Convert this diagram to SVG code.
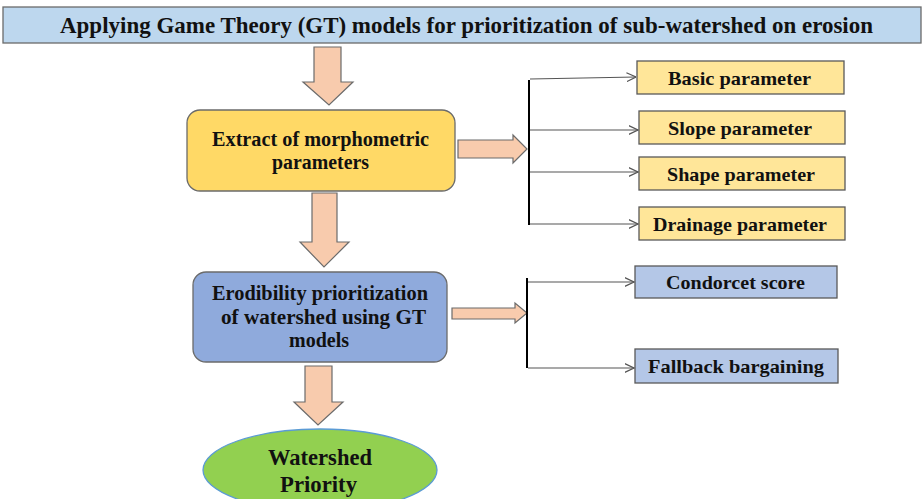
<svg xmlns="http://www.w3.org/2000/svg" width="923" height="499" viewBox="0 0 923 499">
  <style>
    text { font-family: "Liberation Serif", "Times New Roman", serif; font-weight: bold; fill: #111; text-anchor: middle; }
    .title { font-size: 23px; }
    .main { font-size: 20.5px; }
    .sub { font-size: 19.5px; }
    .big { font-size: 23px; }
    .fat { fill: #F8CBAD; stroke: #6b6b6b; stroke-width: 1.2; }
    .branch { fill: none; stroke: #555; stroke-width: 1.2; }
    .spine { stroke: #000; stroke-width: 2; }
    .yel { fill: #FFE699; stroke: #595959; stroke-width: 1.3; }
    .blu { fill: #B4C7E7; stroke: #595959; stroke-width: 1.3; }
  </style>
  <defs>
    <marker id="open" viewBox="0 0 10 10" refX="9.5" refY="5" markerWidth="10" markerHeight="10" markerUnits="userSpaceOnUse" orient="auto">
      <path d="M0,0.5 L9.5,5 L0,9.5" fill="none" stroke="#555" stroke-width="1.2"/>
    </marker>
  </defs>
  <rect width="923" height="499" fill="#fff"/>

  <g id="title">
    <rect x="3" y="7" width="918" height="36" fill="#BDD7EE" stroke="#6b6b6b" stroke-width="1.3"/>
    <text class="title" x="466.5" y="33" textLength="813" lengthAdjust="spacingAndGlyphs">Applying Game Theory (GT) models for prioritization of sub-watershed on erosion</text>
  </g>

  <g id="extract">
    <rect x="187" y="110" width="268" height="81" rx="13" fill="#FFD966" stroke="#6b6b6b" stroke-width="1.3"/>
    <text class="main" x="320.5" y="146" textLength="217" lengthAdjust="spacingAndGlyphs">Extract of morphometric</text>
    <text class="main" x="320.5" y="169" textLength="97" lengthAdjust="spacingAndGlyphs">parameters</text>
  </g>

  <g id="erodibility">
    <rect x="193" y="272" width="254" height="90" rx="13" fill="#8FAADC" stroke="#6b6b6b" stroke-width="1.3"/>
    <text class="main" x="320" y="300" textLength="216" lengthAdjust="spacingAndGlyphs">Erodibility prioritization</text>
    <text class="main" x="323.5" y="324" textLength="205" lengthAdjust="spacingAndGlyphs">of watershed  using GT</text>
    <text class="main" x="319" y="347" textLength="60" lengthAdjust="spacingAndGlyphs">models</text>
  </g>

  <g id="priority">
    <ellipse cx="320" cy="470" rx="117" ry="41" fill="#92D050" stroke="#5B9BD5" stroke-width="1.3"/>
    <text class="big" x="320" y="465" textLength="104" lengthAdjust="spacingAndGlyphs">Watershed</text>
    <text class="big" x="318.5" y="492" textLength="77" lengthAdjust="spacingAndGlyphs">Priority</text>
  </g>

  <g id="basic">
    <rect class="yel" x="637" y="61" width="207" height="33"/>
    <text class="sub" x="739.5" y="85" textLength="143" lengthAdjust="spacingAndGlyphs">Basic parameter</text>
  </g>
  <g id="slope">
    <rect class="yel" x="639" y="111" width="206" height="33"/>
    <text class="sub" x="740" y="135" textLength="144" lengthAdjust="spacingAndGlyphs">Slope parameter</text>
  </g>
  <g id="shape">
    <rect class="yel" x="639" y="157" width="206" height="33"/>
    <text class="sub" x="741" y="181" textLength="148" lengthAdjust="spacingAndGlyphs">Shape parameter</text>
  </g>
  <g id="drainage">
    <rect class="yel" x="639" y="207" width="206" height="33"/>
    <text class="sub" x="740" y="231" textLength="174" lengthAdjust="spacingAndGlyphs">Drainage parameter</text>
  </g>

  <g id="condorcet">
    <rect class="blu" x="635" y="266" width="202" height="32"/>
    <text class="sub" x="735.5" y="289" textLength="139" lengthAdjust="spacingAndGlyphs">Condorcet score</text>
  </g>
  <g id="fallback">
    <rect class="blu" x="635" y="349" width="203" height="34"/>
    <text class="sub" x="736" y="373" textLength="176" lengthAdjust="spacingAndGlyphs">Fallback bargaining</text>
  </g>

  <g id="connectors">
    <!-- block arrows down the main column -->
    <path class="fat" d="M314,47 H341 V82 H353 L329,105 L303,82 H314 Z"/>
    <path class="fat" d="M312,193 H337 V242 H349 L324,267 L300,242 H312 Z"/>
    <path class="fat" d="M305,366 H332 V402 H343 L318,425 L294,402 H305 Z"/>
    <!-- block arrows into the brackets -->
    <path class="fat" d="M458,140 H513 V135 L527,149 L513,163 V158 H458 Z"/>
    <path class="fat" d="M452,308 H515 V303 L527,313 L515,323 V319 H452 Z"/>
    <!-- bracket for morphometric parameters -->
    <line class="spine" x1="529" y1="80" x2="529" y2="225"/>
    <line class="branch" x1="530" y1="79" x2="636" y2="77" marker-end="url(#open)"/>
    <line class="branch" x1="530" y1="130" x2="638" y2="130" marker-end="url(#open)"/>
    <line class="branch" x1="530" y1="172" x2="638" y2="172" marker-end="url(#open)"/>
    <line class="branch" x1="530" y1="224" x2="638" y2="224" marker-end="url(#open)"/>
    <!-- bracket for GT models -->
    <line class="spine" x1="527" y1="278" x2="527" y2="368"/>
    <line class="branch" x1="528" y1="282" x2="634" y2="282" marker-end="url(#open)"/>
    <line class="branch" x1="528" y1="368" x2="634" y2="368" marker-end="url(#open)"/>
  </g>
</svg>
